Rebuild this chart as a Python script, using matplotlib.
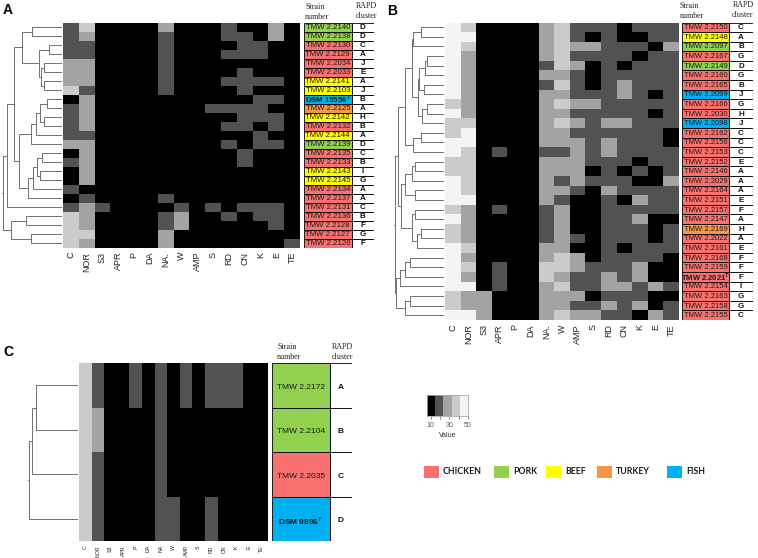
import numpy as np
import matplotlib
matplotlib.use('Agg')
import matplotlib.pyplot as plt
from matplotlib.colors import ListedColormap, BoundaryNorm
from matplotlib.patches import Rectangle

plt.rcParams['font.family'] = ['Liberation Sans', 'DejaVu Sans']
plt.rcParams['mathtext.fontset'] = 'custom'
plt.rcParams['mathtext.rm'] = 'Liberation Sans'
plt.rcParams['mathtext.bf'] = 'Liberation Sans:bold'

# ---------------- data ----------------
antibiotics_AB = ['C', 'NOR', 'S3', 'APR', 'P', 'DA', 'NA.', 'W', 'AMP', 'S', 'RD', 'CN', 'K', 'E', 'TE']
antibiotics_C = ['C', 'NOR', 'S3', 'APR', 'P', 'DA', 'NA', 'W', 'AMP', 'S', 'RD', 'CN', 'K', 'E', 'TE']

A_strains = ['TMW 2.2140', 'TMW 2.2138', 'TMW 2.2130', 'TMW 2.2129', 'TMW 2.2034', 'TMW 2.2033',
             'TMW 2.2141', 'TMW 2.2103', r'DSM 15556$^{\mathbf{T}}$', 'TMW 2.2125', 'TMW 2.2142',
             'TMW 2.2132', 'TMW 2.2144', 'TMW 2.2139', 'TMW 2.2135', 'TMW 2.2133', 'TMW 2.2143',
             'TMW 2.2145', 'TMW 2.2134', 'TMW 2.2137', 'TMW 2.2131', 'TMW 2.2136', 'TMW 2.2128',
             'TMW 2.2127', 'TMW 2.2126']
A_sources = ['PORK', 'PORK', 'CHICKEN', 'CHICKEN', 'CHICKEN', 'CHICKEN', 'BEEF', 'BEEF', 'FISH',
             'TURKEY', 'BEEF', 'CHICKEN', 'BEEF', 'PORK', 'CHICKEN', 'CHICKEN', 'BEEF', 'BEEF',
             'CHICKEN', 'CHICKEN', 'CHICKEN', 'CHICKEN', 'CHICKEN', 'CHICKEN', 'CHICKEN']
A_rapd = ['D', 'D', 'C', 'A', 'J', 'E', 'A', 'J', 'B', 'A', 'H', 'B', 'A', 'D', 'C', 'B', 'I', 'G',
          'A', 'A', 'C', 'B', 'F', 'G', 'F']
A_bold = [8]
A_values = [
    [20, 40, 10, 10, 10, 10, 30, 10, 10, 10, 20, 10, 10, 30, 10],
    [20, 30, 10, 10, 10, 10, 20, 10, 10, 10, 20, 20, 10, 30, 10],
    [20, 20, 10, 10, 10, 10, 20, 10, 10, 10, 10, 20, 20, 10, 10],
    [20, 20, 10, 10, 10, 10, 20, 10, 10, 10, 20, 20, 20, 10, 10],
    [30, 30, 10, 10, 10, 10, 20, 10, 10, 10, 10, 10, 10, 10, 10],
    [30, 30, 10, 10, 10, 10, 20, 10, 10, 10, 10, 20, 10, 10, 10],
    [30, 30, 10, 10, 10, 10, 20, 10, 10, 10, 20, 20, 20, 20, 10],
    [40, 20, 10, 10, 10, 10, 20, 10, 10, 10, 10, 20, 10, 10, 10],
    [10, 30, 10, 10, 10, 10, 10, 10, 10, 10, 10, 10, 20, 20, 10],
    [20, 30, 10, 10, 10, 10, 10, 10, 10, 20, 20, 20, 20, 10, 10],
    [20, 30, 10, 10, 10, 10, 10, 10, 10, 10, 10, 20, 20, 20, 10],
    [20, 30, 10, 10, 10, 10, 10, 10, 10, 10, 20, 20, 10, 20, 10],
    [20, 20, 10, 10, 10, 10, 10, 10, 10, 10, 10, 10, 20, 10, 10],
    [30, 30, 10, 10, 10, 10, 10, 10, 10, 10, 20, 10, 20, 20, 10],
    [10, 30, 10, 10, 10, 10, 10, 10, 10, 10, 10, 20, 10, 10, 10],
    [20, 30, 10, 10, 10, 10, 10, 10, 10, 10, 10, 20, 10, 10, 10],
    [10, 30, 10, 10, 10, 10, 10, 10, 10, 10, 10, 10, 10, 10, 10],
    [10, 30, 10, 10, 10, 10, 10, 10, 10, 10, 10, 10, 10, 10, 10],
    [20, 10, 10, 10, 10, 10, 10, 10, 10, 10, 10, 10, 10, 10, 10],
    [10, 20, 10, 10, 10, 10, 20, 10, 10, 10, 10, 10, 10, 10, 10],
    [20, 30, 20, 10, 10, 10, 10, 20, 10, 20, 10, 20, 20, 20, 10],
    [40, 30, 10, 10, 10, 10, 20, 30, 10, 10, 20, 10, 20, 20, 10],
    [40, 30, 10, 10, 10, 10, 20, 30, 10, 10, 10, 10, 10, 20, 10],
    [40, 40, 10, 10, 10, 10, 30, 10, 10, 10, 10, 10, 10, 10, 10],
    [40, 30, 10, 10, 10, 10, 30, 10, 10, 10, 10, 10, 10, 10, 20],
]
# dendrogram: (left, right, merge height)
A_tree = (((((0, 1, 30), ((2, 3, 13), ((4, 5, 18), (6, 7, 18), 21), 23), 40),
            (((((8, 9, 15), (10, 11, 18), 22), 12, 26), 13, 31),
             (((((14, 15, 20), (16, 17, 22), 25), 18, 29), 19, 34)), 43), 48),
           20, 55),
          ((21, 22, 36), (23, 24, 31), 51), 59)

B_strains = ['TMW 2.2150', 'TMW 2.2148', 'TMW 2.2097', 'TMW 2.2167', 'TMW 2.2149', 'TMW 2.2160',
             'TMW 2.2165', 'TMW 2.2099', 'TMW 2.2166', 'TMW 2.2030', 'TMW 2.2098', 'TMW 2.2162',
             'TMW 2.2156', 'TMW 2.2153', 'TMW 2.2152', 'TMW 2.2146', 'TMW 2.2029', 'TMW 2.2164',
             'TMW 2.2151', 'TMW 2.2157', 'TMW 2.2147', 'TMW 2.2169', 'TMW 2.2022', 'TMW 2.2161',
             'TMW 2.2168', 'TMW 2.2159', r'TMW 2.2021$^{\mathbf{T}}$', 'TMW 2.2154', 'TMW 2.2163',
             'TMW 2.2158', 'TMW 2.2155']
B_sources = ['CHICKEN', 'BEEF', 'PORK', 'CHICKEN', 'PORK', 'CHICKEN', 'CHICKEN', 'FISH', 'CHICKEN',
             'CHICKEN', 'FISH', 'CHICKEN', 'CHICKEN', 'CHICKEN', 'CHICKEN', 'CHICKEN', 'CHICKEN',
             'CHICKEN', 'CHICKEN', 'CHICKEN', 'CHICKEN', 'TURKEY', 'CHICKEN', 'CHICKEN', 'CHICKEN',
             'CHICKEN', 'CHICKEN', 'CHICKEN', 'CHICKEN', 'CHICKEN', 'CHICKEN']
B_rapd = ['C', 'A', 'B', 'G', 'D', 'G', 'B', 'J', 'G', 'H', 'J', 'C', 'C', 'C', 'E', 'A', 'A', 'A',
          'E', 'F', 'A', 'H', 'A', 'E', 'F', 'F', 'F', 'I', 'G', 'G', 'C']
B_bold = [26]
B_values = [
    [50, 40, 10, 10, 10, 10, 30, 40, 20, 20, 20, 10, 20, 20, 20],
    [50, 50, 10, 10, 10, 10, 30, 40, 20, 10, 20, 10, 10, 20, 20],
    [50, 40, 10, 10, 10, 10, 30, 40, 30, 30, 20, 20, 20, 10, 30],
    [50, 30, 10, 10, 10, 10, 30, 40, 20, 20, 20, 20, 10, 20, 20],
    [50, 30, 10, 10, 10, 10, 20, 40, 30, 10, 20, 10, 20, 20, 20],
    [50, 30, 10, 10, 10, 10, 30, 30, 20, 10, 20, 20, 20, 20, 20],
    [50, 30, 10, 10, 10, 10, 20, 40, 20, 10, 20, 30, 20, 20, 20],
    [50, 30, 10, 10, 10, 10, 30, 30, 20, 20, 20, 30, 20, 10, 20],
    [40, 30, 10, 10, 10, 10, 30, 40, 30, 30, 20, 20, 20, 20, 20],
    [50, 30, 10, 10, 10, 10, 30, 30, 20, 20, 20, 20, 20, 10, 20],
    [40, 40, 10, 10, 10, 10, 30, 40, 30, 20, 30, 30, 20, 20, 20],
    [40, 50, 10, 10, 10, 10, 30, 30, 20, 20, 20, 20, 20, 20, 10],
    [50, 50, 10, 10, 10, 10, 30, 30, 30, 20, 30, 20, 20, 20, 10],
    [50, 40, 10, 20, 10, 10, 20, 20, 30, 20, 30, 20, 20, 20, 20],
    [40, 40, 10, 10, 10, 10, 30, 30, 30, 20, 20, 20, 10, 20, 20],
    [40, 40, 10, 10, 10, 10, 30, 30, 30, 10, 20, 10, 20, 10, 20],
    [50, 40, 10, 10, 10, 10, 30, 20, 30, 20, 20, 20, 10, 10, 30],
    [50, 40, 10, 10, 10, 10, 30, 30, 20, 10, 30, 20, 20, 20, 20],
    [50, 50, 10, 10, 10, 10, 30, 20, 10, 10, 20, 10, 30, 20, 20],
    [40, 30, 10, 20, 10, 10, 20, 30, 10, 10, 20, 20, 20, 20, 20],
    [50, 30, 10, 10, 10, 10, 20, 30, 10, 10, 20, 20, 30, 10, 10],
    [40, 30, 10, 10, 10, 10, 20, 30, 10, 10, 20, 20, 20, 10, 20],
    [40, 30, 10, 10, 10, 10, 20, 30, 20, 10, 20, 20, 20, 10, 20],
    [50, 40, 10, 10, 10, 10, 30, 30, 10, 10, 20, 10, 20, 20, 20],
    [50, 30, 10, 10, 10, 10, 30, 40, 30, 10, 20, 20, 20, 20, 10],
    [50, 40, 10, 20, 10, 10, 40, 40, 30, 20, 20, 20, 30, 10, 10],
    [50, 30, 10, 20, 10, 10, 40, 30, 20, 20, 30, 20, 30, 10, 10],
    [50, 50, 10, 20, 10, 10, 30, 40, 20, 20, 30, 30, 20, 30, 20],
    [40, 30, 30, 10, 10, 10, 30, 30, 30, 10, 20, 20, 20, 10, 10],
    [40, 30, 30, 10, 10, 10, 30, 30, 20, 20, 30, 20, 30, 10, 20],
    [50, 50, 30, 10, 10, 10, 30, 40, 30, 30, 20, 20, 10, 30, 20],
]
B_tree = (((((((0, 1, 23), 2, 32),
              ((((3, 4, 17), 5, 19), (6, 7, 20), 25), ((8, 9, 17), 10, 22), 27), 33),
             ((11, 12, 23), 13, 32), 40),
            ((((14, 15, 30), 16, 33), (17, 18, 30), 40),
             ((19, 20, 30), ((21, 22, 23), 23, 28), 33), 44), 47)),
          (((((24, 25, 35), 26, 40), 27, 45), ((28, 29, 35), 30, 40), 49)), 50)

C_strains = ['TMW 2.2172', 'TMW 2.2104', 'TMW 2.2035', r'DSM 9896$^{\mathbf{T}}$']
C_sources = ['PORK', 'PORK', 'CHICKEN', 'FISH']
C_rapd = ['A', 'B', 'C', 'D']
C_bold = [3]
C_values = [
    [40, 20, 10, 10, 20, 10, 20, 10, 20, 10, 20, 20, 20, 10, 10],
    [40, 30, 10, 10, 10, 10, 20, 10, 10, 10, 10, 10, 10, 10, 10],
    [40, 20, 10, 10, 10, 10, 20, 10, 10, 10, 10, 10, 10, 10, 10],
    [40, 20, 10, 10, 10, 10, 20, 20, 10, 10, 20, 10, 10, 10, 10],
]
C_tree = (((0, 1, 43), 2, 47), 3, 50)

source_names = ['CHICKEN', 'PORK', 'BEEF', 'TURKEY', 'FISH']
source_colors = ['#f8716f', '#92d050', '#ffff00', '#f79646', '#00b0f0']
scale_levels = [10, 20, 30, 40, 50]
scale_ticklabels = ['10', '', '30', '', '50']

# ---------------- styling ----------------
W, H = 758, 558
fig = plt.figure(figsize=(W / 100, H / 100), dpi=100)
grey_colors = ['#000000', '#525252', '#a3a3a3', '#cbcbcb', '#f4f4f4']
cmap = ListedColormap(grey_colors)
norm = BoundaryNorm([5, 15, 25, 35, 45, 55], cmap.N)
src_col = dict(zip(source_names, source_colors))
LINE = '#707070'


def add_ax(x0, y0, x1, y1):
    return fig.add_axes([x0 / W, 1 - y1 / H, (x1 - x0) / W, (y1 - y0) / H])


def heat(ax, vals, cols, fs):
    arr = np.array(vals)
    nr, nc = arr.shape
    ax.pcolormesh(np.arange(nc + 1), np.arange(nr + 1), arr, cmap=cmap, norm=norm)
    ax.set_xlim(0, nc)
    ax.set_ylim(nr, 0)
    ax.set_xticks(np.arange(nc) + 0.5)
    ax.set_xticklabels(cols, rotation=90, fontsize=fs, color='#222222')
    ax.set_yticks([])
    ax.tick_params(length=0, pad=3)
    for s in ax.spines.values():
        s.set_visible(False)


def dendro(ax, tree, n, hmax):
    def rec(node):
        if isinstance(node, int):
            return node + 0.5, 0.0
        l, r, h = node
        yl, hl = rec(l)
        yr, hr = rec(r)
        ax.plot([hl, h, h, hr], [yl, yl, yr, yr], color=LINE, lw=0.7, solid_capstyle='butt')
        return (yl + yr) / 2, h
    y, h = rec(tree)
    ax.plot([h, hmax], [y, y], color=LINE, lw=0.7)
    ax.set_xlim(hmax, 0)
    ax.set_ylim(n, 0)
    ax.axis('off')


def labels(ax, names, sources, rapd, bold, split, fs, fs2):
    n = len(names)
    ax.set_xlim(0, 1)
    ax.set_ylim(n, 0)
    ax.axis('off')
    for i in range(n):
        ax.add_patch(Rectangle((0, i), split, 1, facecolor=src_col[sources[i]],
                               edgecolor='black', lw=0.6))
        ax.add_patch(Rectangle((split, i), 1 - split, 1, facecolor='white',
                               edgecolor='black', lw=0.6))
        ax.text(split / 2, i + 0.55, names[i], ha='center', va='center', fontsize=fs,
                color='#1a1a1a', fontweight='bold' if i in bold else 'normal')
        ax.text(split + (1 - split) / 2, i + 0.55, rapd[i], ha='center', va='center',
                fontsize=fs2, fontweight='bold', color='#111111')


# Panel A
dendro(add_ax(2, 22.5, 62, 247.5), A_tree, len(A_strains), 60)
heat(add_ax(63, 22.5, 300, 247.5), A_values, antibiotics_AB, 6.5)
labels(add_ax(304, 22.5, 374, 247.5), A_strains, A_sources, A_rapd, A_bold, 0.68, 5.6, 5.8)

# Panel B
dendro(add_ax(394, 22.5, 444, 320), B_tree, len(B_strains), 51)
heat(add_ax(445, 22.5, 679, 320), B_values, antibiotics_AB, 6.5)
labels(add_ax(682, 22.5, 753, 320), B_strains, B_sources, B_rapd, B_bold, 0.66, 5.5, 5.8)

# Panel C
dendro(add_ax(28, 363, 78, 541), C_tree, len(C_strains), 51)
heat(add_ax(79, 363, 268, 541), C_values, antibiotics_C, 3.8)
labels(add_ax(272, 363, 352, 541), C_strains, C_sources, C_rapd, C_bold, 0.72, 6, 6)

# headers and panel letters
serif = 'Liberation Serif'
for (xs, ys, xr, yr) in [(305, 3, 366, 2), (680, 2, 743, 1), (277, 343, 342, 343)]:
    fig.text(xs / W, 1 - ys / H, 'Strain\nnumber', family=serif, fontsize=5.8, va='top',
             ha='left', linespacing=1.3, color='#222222')
    fig.text(xr / W, 1 - yr / H, 'RAPD\ncluster', family=serif, fontsize=5.8, va='top',
             ha='center', linespacing=1.3, color='#222222')
for (lbl, x, y) in [('A', 3, 3), ('B', 387, 4), ('C', 3, 345)]:
    fig.text(x / W, 1 - y / H, lbl, fontsize=10, fontweight='bold', va='top', ha='left')

# colour scale
cax = add_ax(427, 395, 468, 416)
edges = np.linspace(6, 50, len(scale_levels) + 1)
cax.pcolormesh(edges, [0, 1], np.array([scale_levels]), cmap=cmap, norm=norm)
cax.set_xlim(edges[0], edges[-1])
cax.set_yticks([])
cax.set_xticks(scale_levels)
cax.set_xticklabels(scale_ticklabels, fontsize=5, color='#333333')
cax.tick_params(length=2.5, width=0.5, pad=2, colors='#555555')
for s in cax.spines.values():
    s.set_color('#aaaaaa')
    s.set_linewidth(0.6)
cax.set_xlabel('Value', fontsize=5, labelpad=2, color='#333333')

# source legend
box_x = [424, 494, 546, 597, 667]
for name, col, bx in zip(source_names, source_colors, box_x):
    fig.add_artist(Rectangle((bx / W, 1 - 478 / H), 15 / W, 12 / H, facecolor=col,
                             edgecolor='none', transform=fig.transFigure))
    fig.text((bx + 19) / W, 1 - 472 / H, name, fontsize=6.3, fontweight='bold',
             family=['Lato', 'DejaVu Sans'], va='center', ha='left', color='#1a1a1a')

fig.savefig('out.png', dpi=100, facecolor='white')
